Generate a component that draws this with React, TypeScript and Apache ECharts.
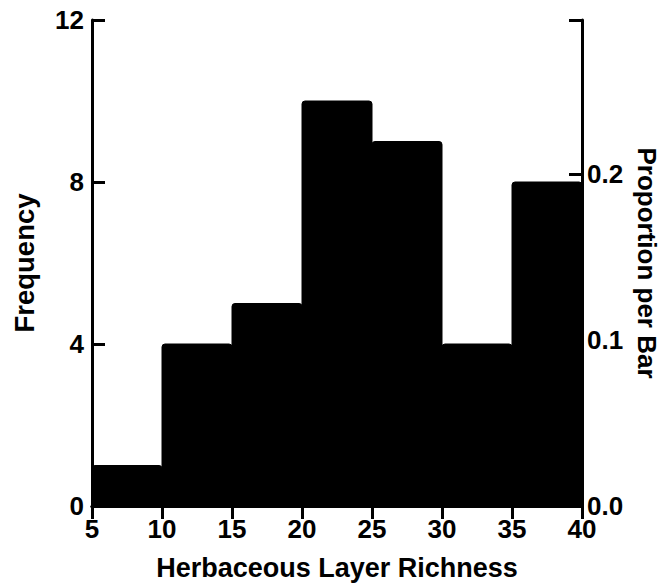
import React, { useEffect, useRef } from "react";
import * as echarts from "echarts";

const binStarts = [5, 10, 15, 20, 25, 30, 35];
const binWidth = 5;
const frequencies = [1, 4, 5, 10, 9, 4, 8];
const xTicks = [5, 10, 15, 20, 25, 30, 35, 40];
const freqTicks = [0, 4, 8, 12];
const propTicks = [0.0, 0.1, 0.2];

const FONT = "Liberation Sans";

export default function App() {
  const ref = useRef<HTMLDivElement>(null);
  useEffect(() => {
    if (!ref.current) return;
    const chart = echarts.init(ref.current, null, { renderer: "svg" });
    const total = frequencies.reduce((a, b) => a + b, 0);
    const freqMax = freqTicks[freqTicks.length - 1];
    const xMin = xTicks[0];
    const xMax = xTicks[xTicks.length - 1];
    const lbl = { color: "#000", fontFamily: FONT, fontWeight: "bold" as const, fontSize: 26 };
    const lineStyle = { color: "#000", width: 3 };
    const data = binStarts.map((s, i) => [s, s + binWidth, frequencies[i]]);
    chart.setOption({
      animation: false,
      backgroundColor: "#fff",
      grid: { left: 92, right: 87, top: 20, bottom: 81, containLabel: false },
      xAxis: [
        {
          type: "value",
          position: "bottom",
          min: xMin,
          max: xMax,
          interval: 5,
          splitLine: { show: false },
          axisLine: { lineStyle },
          axisTick: { show: false },
          axisLabel: { ...lbl, margin: 10 },
          name: "Herbaceous Layer Richness",
          nameLocation: "middle",
          nameGap: 48,
          nameTextStyle: { ...lbl, fontSize: 27 },
        },
        {
          type: "value",
          position: "top",
          min: xMin,
          max: xMax,
          interval: 5,
          splitLine: { show: false },
          axisLine: { lineStyle },
          axisTick: { inside: true, length: 13, lineStyle },
          axisLabel: { show: false },
        },
      ],
      yAxis: [
        {
          type: "value",
          position: "left",
          min: 0,
          max: freqMax,
          interval: 4,
          splitLine: { show: false },
          axisLine: { show: true, lineStyle },
          axisTick: { show: true, inside: true, length: 13, lineStyle },
          axisLabel: { ...lbl, margin: 8 },
          name: "Frequency",
          nameLocation: "middle",
          nameGap: 54,
          nameTextStyle: { ...lbl, fontSize: 27.5 },
        },
        {
          type: "value",
          position: "right",
          min: 0,
          max: freqMax / total,
          interval: 0.1,
          splitLine: { show: false },
          axisLine: { show: true, lineStyle },
          axisTick: { show: true, inside: true, length: 13, lineStyle },
          axisLabel: {
            ...lbl,
            margin: 5,
            formatter: (v: number) => {
              const hit = propTicks.find((t) => Math.abs(t - v) < 1e-6);
              return hit === undefined ? "" : hit.toFixed(1);
            },
          },
          name: "Proportion per Bar",
          nameLocation: "middle",
          nameRotate: -90,
          nameGap: 52,
          nameTextStyle: { ...lbl, fontSize: 26 },
        },
      ],
      series: [
        {
          type: "custom",
          xAxisIndex: 0,
          yAxisIndex: 0,
          data,
          encode: { x: [0, 1], y: 2 },
          renderItem: (params: any, api: any) => {
            const p0 = api.coord([api.value(0), api.value(2)]);
            const p1 = api.coord([api.value(1), 0]);
            return {
              type: "rect",
              shape: { x: p0[0], y: p0[1], width: p1[0] - p0[0], height: p1[1] - p0[1], r: [3, 3, 0, 0] },
              style: { fill: "#000", stroke: "#000", lineWidth: 1 },
            };
          },
        },
      ],
    });
    return () => chart.dispose();
  }, []);
  return (
    <div
      ref={ref}
      style={{ position: "absolute", left: 0, top: 0, width: 669, height: 587 }}
    />
  );
}
